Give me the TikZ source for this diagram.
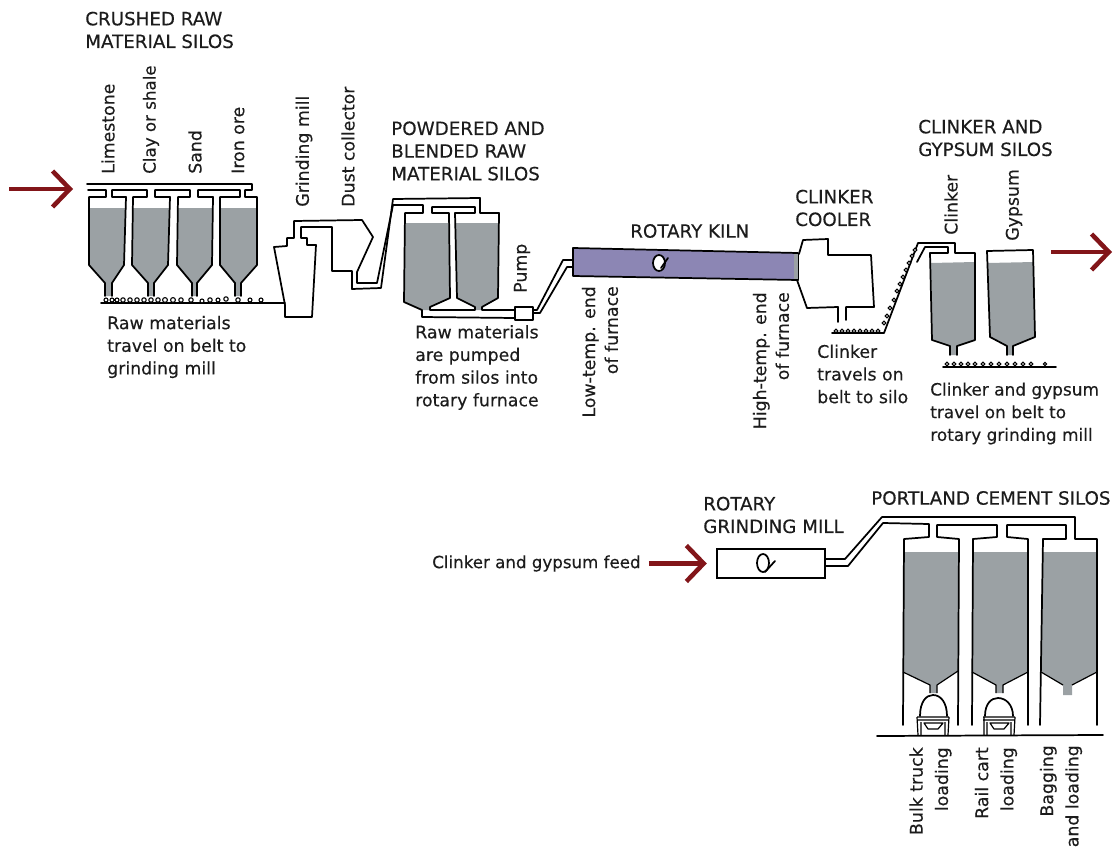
\documentclass[tikz,border=0pt]{standalone}
\usepackage{fontspec}
\setmainfont{DejaVu Sans}
\newfontfamily\handfont{DejaVu Sans}[FakeBold=0.35]
\usepackage{xcolor}
\usepackage{tikz}
\usetikzlibrary{arrows.meta}

\definecolor{silogray}{HTML}{9BA1A4}
\definecolor{kilnpurple}{HTML}{8C86B4}
\definecolor{flowred}{HTML}{821519}
\definecolor{inkdark}{HTML}{1C1C1C}

\begin{document}
\begin{tikzpicture}[
    x=0.75pt,
    y=-0.75pt,
    note/.style={
        font=\handfont\fontsize{13}{17}\selectfont,
        text=inkdark,
        inner sep=0pt,
        align=left,
        anchor=west
    },
    capsnote/.style={
        note,
        font=\handfont\fontsize{13.7}{17}\selectfont
    },
    sidenote/.style={
        note,
        rotate=90
    },
    sidenotes/.style={
        note,
        rotate=90,
        align=right,
        anchor=east
    },
    silofill/.style={
        fill=silogray
    },
    pipe/.style={
        draw=black,
        line width=1.3pt,
        line join=round,
        line cap=round
    },
    thinline/.style={
        draw=black,
        line width=0.9pt,
        line join=round
    },
    bead/.style={
        draw=black,
        line width=0.8pt,
        fill=white
    },
    millbox/.style={
        rectangle,
        draw=black,
        line width=1.3pt,
        fill=white,
        minimum width=81pt,
        minimum height=21.75pt,
        inner sep=0pt
    },
    flow/.style={
        draw=flowred,
        line width=3.4pt,
        -{Straight Barb[length=13pt,width=27pt,line width=3.4pt]}
    }
]
\useasboundingbox (0,0) rectangle (1118,849);

% Silo contents
\fill[silofill] (89,208) -- (126,208) -- (124,265) -- (112,283) -- (112,296) -- (105,296) -- (105,283) -- (89,265) -- cycle;
\fill[silofill] (133,208) -- (170,208) -- (168,265) -- (154,283) -- (154,296) -- (148,296) -- (148,283) -- (132,265) -- cycle;
\fill[silofill] (177,208) -- (213,208) -- (212,265) -- (197,283) -- (197,296) -- (192,296) -- (192,283) -- (177,265) -- cycle;
\fill[silofill] (220,208) -- (257,208) -- (257,265) -- (241,283) -- (241,296) -- (235,296) -- (235,283) -- (220,265) -- cycle;
\fill[silofill] (405,223) -- (449,223) -- (450,298) -- (430,307) -- (430,310) -- (422,310) -- (404,302) -- cycle;
\fill[silofill] (455,223) -- (499,223) -- (498,298) -- (482,307) -- (482,310) -- (475,310) -- (475,307) -- (457,298) -- cycle;
\fill[silofill] (931,263) -- (975,262) -- (975,340) -- (957,346) -- (957,355) -- (950,355) -- (950,346) -- (932,340) -- cycle;
\fill[silofill] (988,263) -- (1034,262) -- (1035,337) -- (1013,346) -- (1013,355) -- (1007,355) -- (1007,346) -- (990,337) -- cycle;
\fill[silofill] (904,552) -- (959,552) -- (958,671) -- (937,685) -- (937,693) -- (930,693) -- (930,685) -- (903,672) -- cycle;
\fill[silofill] (973,552) -- (1028,552) -- (1028,672) -- (1003,685) -- (1003,693) -- (996,693) -- (996,685) -- (972,672) -- cycle;
\fill[silofill] (1043,552) -- (1097,552) -- (1097,672) -- (1072,685) -- (1072,695) -- (1063,695) -- (1063,685) -- (1041,672) -- cycle;

% Crushed raw material silos
\draw[pipe] (88,190) -- (106,190) -- (106,197) -- (89,197) -- (89,265) -- (105,283) -- (105,296);
\draw[pipe] (148,296) -- (148,283) -- (132,265) -- (133,197) -- (147,197) -- (147,190) -- (112,190) -- (112,197) -- (126,197) -- (124,265) -- (112,283) -- (112,296);
\draw[pipe] (192,296) -- (192,283) -- (177,265) -- (178,197) -- (190,197) -- (190,190) -- (155,190) -- (155,197) -- (170,197) -- (168,265) -- (154,283) -- (154,296);
\draw[pipe] (235,296) -- (235,283) -- (220,265) -- (220,197) -- (240,197) -- (240,190) -- (198,190) -- (198,197) -- (213,197) -- (212,265) -- (197,283) -- (197,296);
\draw[pipe] (241,296) -- (241,283) -- (257,265) -- (257,197) -- (245,197) -- (245,190) -- (252,190) -- (252,184) -- (87,184);

% Belt to grinding mill
\draw[pipe] (101,303) -- (285,303);
\draw[bead] (106,300) circle (2) (112,300) circle (2) (117,300) circle (2) (123,300) circle (2.2) (130,300) circle (2.2)
    (137,300) circle (2.2) (144,300) circle (2.2) (151,300) circle (2.2) (158,300) circle (2.2) (165,300) circle (2.4)
    (173,300) circle (2.4) (181,300) circle (2.2) (191,300) circle (2.2) (202,301) circle (2) (210,300) circle (2.2)
    (218,300) circle (2) (226,299) circle (2.2) (238,300) circle (2.2) (250,300) circle (2) (261,300) circle (2);

% Grinding mill and dust collector
\draw[pipe] (316,245) -- (312,317) -- (285,317) -- (285,305) -- (274,247) -- (287,246) -- (287,238) -- (294,238) -- (294,221) -- (362,220) -- (373,237) -- (357,272) -- (357,283) -- (377,283) -- (393,205) -- (423,205) -- (423,213) -- (405,213) -- (404,302) -- (422,310) -- (422,317) -- (515,318);
\draw[pipe] (316,245) -- (307,245) -- (307,238) -- (301,238) -- (301,227) -- (332,227) -- (332,271) -- (352,271) -- (352,289) -- (381,288) -- (393,199) -- (480,198) -- (480,213) -- (499,213) -- (498,298) -- (482,307) -- (482,310) -- (515,310);
\draw[pipe] (430,310) -- (430,307) -- (450,298) -- (449,213) -- (432,213) -- (432,207) -- (475,207) -- (475,213) -- (455,213) -- (457,298) -- (475,307) -- (475,310) -- cycle;

% Pump and feed to kiln
\draw[pipe] (515,307) rectangle (533,320);
\draw[pipe] (533,310) -- (537,310) -- (563,260) -- (573,260);
\draw[pipe] (533,313) -- (540,313) -- (567,267) -- (573,267);

% Rotary kiln
\draw[pipe, fill=kilnpurple] (573,248) -- (798,253) -- (798,280) -- (573,276) -- cycle;
\fill[silogray] (794,254) rectangle (798,279);
\draw[pipe, fill=white] (659,263) ellipse (6 and 8);
\draw[pipe] (668,258) -- (661,268);

% Clinker cooler
\draw[pipe] (799,254) -- (803,240) -- (828,239) -- (828,255) -- (871,255) -- (874,307) -- (846,307) -- (846,320);
\draw[pipe] (838,322) -- (838,307) -- (807,308) -- (797,280);

% Clinker belt and silos
\draw[pipe] (832,333) -- (884,333) -- (918,243) -- (955,243) -- (955,253) -- (975,253) -- (975,340) -- (957,346) -- (957,355);
\draw[pipe] (950,355) -- (950,346) -- (932,340) -- (930,253) -- (948,253) -- (948,247) -- (925,247) -- (917,262);
\draw[pipe] (1007,355) -- (1007,346) -- (990,337) -- (987,251) -- (1033,250) -- (1035,337) -- (1013,346) -- (1013,355);
\draw[bead] (836,331) circle (1.9) (842,331) circle (1.9) (848,331) circle (1.9) (854,331) circle (1.9) (860,331) circle (1.9)
    (866,331) circle (1.9) (872,331) circle (1.9) (878,331) circle (1.9)
    (884,323) circle (1.8) (887,316) circle (1.8) (890,308) circle (1.8) (894,300) circle (1.8) (897,291) circle (1.8) (900,284) circle (1.8)
    (903,277) circle (1.8) (906,270) circle (1.8) (909,263) circle (1.8) (912,256) circle (1.8) (915,250) circle (1.8);
\draw[pipe] (943,367) -- (1056,367);
\draw[bead] (947,364) circle (1.9) (954,364) circle (1.9) (961,364) circle (1.9) (968,364) circle (1.9) (975,364) circle (1.9)
    (983,364) circle (1.9) (991,364) circle (1.9) (999,364) circle (1.9) (1007,364) circle (1.9)
    (1015,364) circle (1.9) (1023,364) circle (1.9) (1031,364) circle (1.9) (1045,364) circle (1.6);

% Rotary grinding mill
\node[millbox] (rotarymill) at (771,563.5) {};
\draw[pipe] (763,563) ellipse (6 and 9);
\draw[pipe] (775,561) -- (765,572);

% Portland cement silos
\draw[pipe] (826,559) -- (845,559) -- (882,517) -- (1075,517) -- (1075,539) -- (1097,539) -- (1097,725);
\draw[pipe] (826,566) -- (848,566) -- (883,523) -- (929,524) -- (929,537) -- (904,539) -- (903,725);
\draw[pipe] (973,539) -- (997,537) -- (997,525) -- (937,525) -- (937,537) -- (959,539) -- (958,725);
\draw[pipe] (972,725) -- (973,539);
\draw[pipe] (1043,539) -- (1066,539) -- (1066,525) -- (1007,525) -- (1007,537) -- (1028,539) -- (1028,725);
\draw[pipe] (1040,725) -- (1043,539);
\draw[thinline] (903,672) -- (930,685) -- (930,693);
\draw[thinline] (958,671) -- (937,685) -- (937,693);
\draw[thinline] (972,672) -- (996,685) -- (996,693);
\draw[thinline] (1028,672) -- (1003,685) -- (1003,693);
\draw[thinline] (1041,672) -- (1063,685);
\draw[thinline] (1097,672) -- (1072,685);
\draw[pipe] (877,736) -- (1103,735);

% Loading trucks
\draw[pipe] (920,716) .. controls (920,702) and (926,695) .. (933,695) .. controls (941,695) and (947,703) .. (947,716);
\draw[thinline] (917,717) -- (949,717) (917,720) -- (949,720) (917,717) -- (918,735) (949,717) -- (948,735);
\draw[thinline] (924,723) -- (943,723) -- (938,729) -- (928,729) -- cycle (921,722) -- (921,735) (945,722) -- (945,735);
\draw[pipe] (985,716) .. controls (985,704) and (991,698) .. (998,698) .. controls (1006,698) and (1013,705) .. (1013,716);
\draw[thinline] (983,717) -- (1015,717) (983,720) -- (1015,720) (984,717) -- (984,735) (1015,717) -- (1014,735);
\draw[thinline] (990,723) -- (1009,723) -- (1004,729) -- (994,729) -- cycle (987,722) -- (987,735) (1011,722) -- (1011,735);

% Red flow arrows
\coordinate (feedin) at (9,189);
\coordinate (feedinend) at (73,189);
\coordinate (feedout) at (1051,252);
\coordinate (feedoutend) at (1112,252);
\draw[flow] (feedin) -- (feedinend);
\draw[flow] (feedout) -- (feedoutend);

% Labels
\node[capsnote] (crushedsilos) at (85,30) {CRUSHED RAW\\MATERIAL SILOS};
\node[sidenote] (limestone) at (108,174) {Limestone};
\node[sidenote, font=\handfont\fontsize{12.5}{17}\selectfont] (clayshale) at (151,174) {Clay or shale};
\node[sidenote] (sand) at (195,174) {Sand};
\node[sidenote] (ironore) at (238,174) {Iron ore};
\node[sidenote] (grindingmill) at (304,207) {Grinding mill};
\node[sidenote] (dustcollector) at (348,207) {Dust collector};
\node[note] (beltnote) at (107,347) {Raw materials\\travel on belt to\\grinding mill};
\node[capsnote] (powderedsilos) at (391,151) {POWDERED AND\\BLENDED RAW\\MATERIAL SILOS};
\node[note] (pumpednote) at (415,367.5) {Raw materials\\are pumped\\from silos into\\rotary furnace};
\node[sidenote] (pump) at (522,293) {Pump};
\node[capsnote] (kiln) at (630,231) {ROTARY KILN};
\node[sidenotes] (lowtemp) at (600,286) {Low-temp. end\\of furnace};
\node[sidenotes] (hightemp) at (771,292) {High-temp. end\\of furnace};
\node[capsnote] (cooler) at (795,208) {CLINKER\\COOLER};
\node[note] (clinkernote) at (817,374) {Clinker\\travels on\\belt to silo};
\node[capsnote] (clinkersilos) at (918,138) {CLINKER AND\\GYPSUM SILOS};
\node[sidenote] (clinker) at (951,235) {Clinker};
\node[sidenote] (gypsum) at (1014,241) {Gypsum};
\node[note, font=\handfont\fontsize{12.7}{17}\selectfont] (gypsumnote) at (930,413.5) {Clinker and gypsum\\travel on belt to\\rotary grinding mill};
\node[note, font=\handfont\fontsize{12.5}{17}\selectfont] (feedlabel) at (432,563.5) {Clinker and gypsum feed};
\node[capsnote] (millname) at (703,515) {ROTARY\\GRINDING MILL};
\node[capsnote] (portland) at (871,498) {PORTLAND CEMENT SILOS};
\node[sidenotes] (bulktruck) at (930.5,747) {Bulk truck\\[2pt]loading};
\node[sidenotes] (railcart) at (996,747) {Rail cart\\[2pt]loading};
\node[sidenotes] (bagging) at (1061,745) {Bagging\\[2pt]and loading};

\draw[flow, shorten <=6pt, shorten >=7pt] (feedlabel) -- (rotarymill);

\end{tikzpicture}
\end{document}
